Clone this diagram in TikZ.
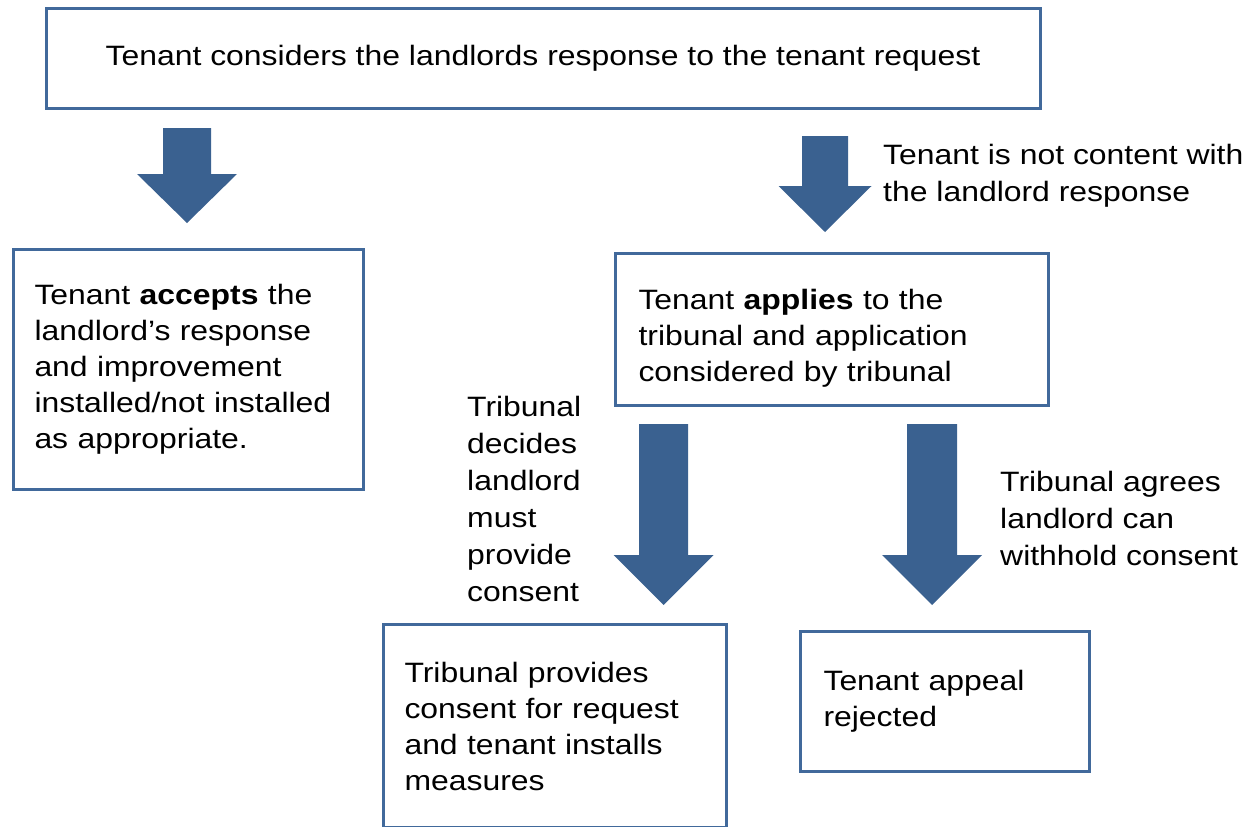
\documentclass[tikz,border=0pt]{standalone}
\usepackage{fontspec}
\setmainfont[FakeStretch=1.14]{Liberation Sans}
\definecolor{boxline}{HTML}{41699B}
\definecolor{arrowfill}{HTML}{3A6190}
\tikzset{
  flowbox/.style={draw=boxline, line width=3pt, align=left, inner ysep=0pt,
    font=\fontsize{28}{36}\selectfont},
  lbl/.style={anchor=north west, align=left, inner sep=0pt,
    font=\fontsize{28}{37}\selectfont},
  blockarrow/.style={fill=arrowfill, draw=none}
}
% centre x, top y, half shaft width, head start y, half head width, tip y
\newcommand\myblockarrow[6]{%
  \path[blockarrow] (#1-#3,#2) -- (#1+#3,#2) -- (#1+#3,#4) -- (#1+#5,#4)
    -- (#1,#6) -- (#1-#5,#4) -- (#1-#3,#4) -- cycle;}
\begin{document}
\begin{tikzpicture}[x=1pt,y=-1pt]
\useasboundingbox (0,0) rectangle (1253,827);

\node[flowbox, align=center, minimum width=994pt, minimum height=100pt] (top) at (543,58)
  {Tenant considers the landlords response to the tenant request};

\node[flowbox, anchor=north west, minimum width=350pt, minimum height=240pt,
  inner xsep=21pt, text width=308pt] (accept) at (12,248)
  {Tenant \textbf{accepts} the\\landlord’s response\\and improvement\\installed/not installed\\as appropriate.};

\node[flowbox, anchor=north west, minimum width=433pt, minimum height=152pt,
  inner xsep=23pt, text width=387pt] (apply) at (614,252)
  {\rule{0pt}{37pt}Tenant \textbf{applies} to the\\tribunal and application\\considered by tribunal};

\node[flowbox, anchor=north west, minimum width=343pt, minimum height=203pt,
  inner xsep=21pt, text width=301pt] (consent) at (382,623)
  {Tribunal provides\\consent for request\\and tenant installs\\measures};

\node[flowbox, anchor=north west, minimum width=289pt, minimum height=140pt,
  inner xsep=23pt, text width=243pt] (reject) at (799,630)
  {Tenant appeal\\rejected};

\node[lbl] (notcontent) at (883,144) {Tenant is not content with\\the landlord response};
\node[lbl] (decides) at (467,396) {Tribunal\\decides\\landlord\\must\\provide\\consent};
\node[lbl] (agrees) at (1000,471) {Tribunal agrees\\landlord can\\withhold consent};

\myblockarrow{187}{128}{24}{174}{50}{223}
\myblockarrow{825}{136}{23}{186}{46.5}{232}
\myblockarrow{663.5}{424}{24.5}{555}{50}{605}
\myblockarrow{932}{424}{25}{555}{50}{605}
\end{tikzpicture}
\end{document}
